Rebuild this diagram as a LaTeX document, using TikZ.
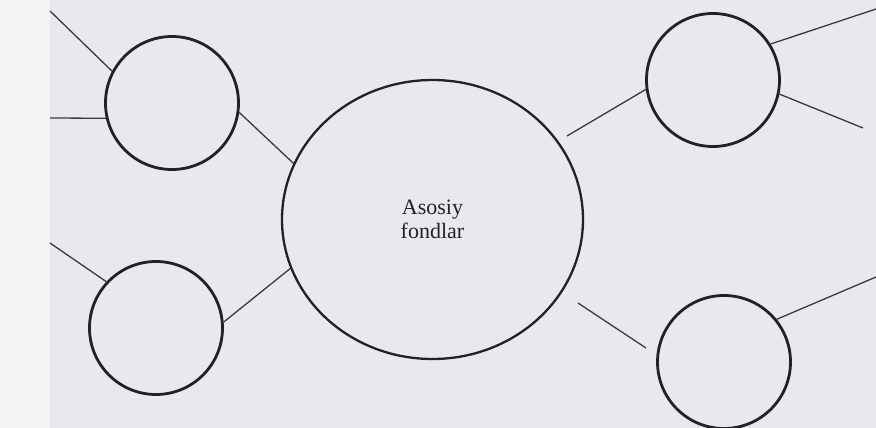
\documentclass[tikz,border=0pt]{standalone}
\usepackage{fontspec}
\setmainfont{Liberation Serif}
\usetikzlibrary{shapes.geometric}
\definecolor{paper}{HTML}{E8E8EE}
\definecolor{edge}{HTML}{F3F3F6}
\definecolor{ink}{HTML}{222222}
\definecolor{thin}{HTML}{3A3A3A}
\begin{document}
\begin{tikzpicture}[x=1pt,y=-1pt,
  smallcirc/.style={circle,draw=ink,line width=2.8pt,minimum size=133pt,inner sep=0pt},
  bigcirc/.style={ellipse,draw=ink,line width=2.3pt,minimum width=301pt,minimum height=279pt,inner sep=0pt,
    font=\fontsize{22}{24}\selectfont,align=center,text=ink},
  link/.style={draw=thin,line width=1.3pt}]
\fill[paper] (0,0) rectangle (876,428);
\fill[edge] (0,0) rectangle (50,428);
\useasboundingbox (0,0) rectangle (876,428);
% nodes
\node[bigcirc] (big) at (432.5,219.5) {Asosiy\\fondlar};
\node[smallcirc] (tl) at (172,103) {};
\node[smallcirc] (bl) at (156,328) {};
\node[smallcirc] (tr) at (713,80) {};
\node[smallcirc] (br) at (724,362) {};
% free ends
\coordinate (tlA) at (50,11);
\coordinate (tlB) at (50,118);
\coordinate (blA) at (50,243);
\coordinate (trIn) at (567,136);
\coordinate (trA) at (876,9);
\coordinate (trB) at (863,128);
\coordinate (brIn) at (578,303);
\coordinate (brInEnd) at (646,348);
\coordinate (brA) at (876,277);
% connectors
\draw[link] (tlA) -- (tl.152);
\draw[link] (tlB) -- (tl.-167);
\draw[link] (tl.-8.5) -- (big.158);
\draw[link] (blA) -- (bl.137);
\draw[link] (bl.5) -- (big.-161.3);
\draw[link] (trIn) -- (tr.188.4);
\draw[link] (tr.32.5) -- (trA);
\draw[link] (tr.-12.6) -- (trB);
\draw[link] (brIn) -- (brInEnd);
\draw[link] (br.39.8) -- (brA);
\end{tikzpicture}
\end{document}
